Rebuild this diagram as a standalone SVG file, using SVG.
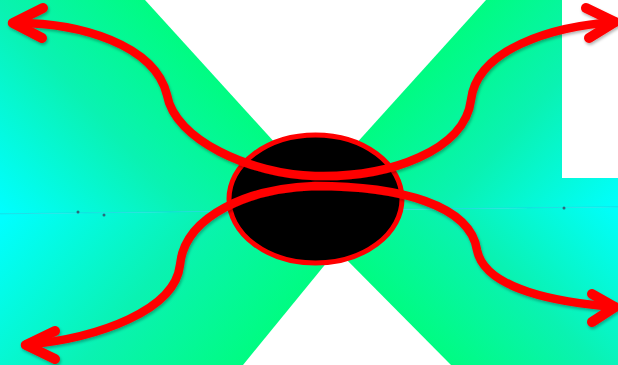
<svg xmlns="http://www.w3.org/2000/svg" width="618" height="365" viewBox="0 0 618 365">
  <defs>
    <linearGradient id="gUL" x1="230" y1="94" x2="45" y2="261.5" gradientUnits="userSpaceOnUse">
      <stop offset="0" stop-color="#00fc82"/>
      <stop offset="0.45" stop-color="#0af2b2"/>
      <stop offset="1" stop-color="#00ffff"/>
    </linearGradient>
    <linearGradient id="gLL" x1="290" y1="307.5" x2="74" y2="131" gradientUnits="userSpaceOnUse">
      <stop offset="0" stop-color="#00fc82"/>
      <stop offset="0.45" stop-color="#0af2b2"/>
      <stop offset="1" stop-color="#00ffff"/>
    </linearGradient>
    <linearGradient id="gUR" x1="401" y1="94" x2="579" y2="255" gradientUnits="userSpaceOnUse">
      <stop offset="0" stop-color="#00fc82"/>
      <stop offset="0.45" stop-color="#0af2b2"/>
      <stop offset="1" stop-color="#00ffff"/>
    </linearGradient>
    <linearGradient id="gLR" x1="394" y1="307.5" x2="561" y2="143" gradientUnits="userSpaceOnUse">
      <stop offset="0" stop-color="#00fc82"/>
      <stop offset="0.45" stop-color="#0af2b2"/>
      <stop offset="1" stop-color="#00ffff"/>
    </linearGradient>
    <filter id="sh" x="-10%" y="-10%" width="120%" height="120%">
      <feDropShadow dx="1" dy="2" stdDeviation="1.5" flood-color="#000" flood-opacity="0.3"/>
    </filter>
    <style>
      .curve { fill: none; stroke: #ff0000; stroke-width: 8.5; stroke-linecap: round; stroke-linejoin: round; }
      .head { fill: none; stroke: #ff0000; stroke-width: 10; stroke-linecap: round; stroke-linejoin: round; }
      .dot { fill: #2a6a7a; }
    </style>
  </defs>

  <!-- background -->
  <polygon points="0,0 316,0 316,210.4 0,214" fill="url(#gUL)"/>
  <polygon points="0,214 316,210.4 316,365 0,365" fill="url(#gLL)"/>
  <polygon points="316,0 618,0 618,207 316,210.4" fill="url(#gUR)"/>
  <polygon points="316,210.4 618,207 618,365 316,365" fill="url(#gLR)"/>
  <line x1="0" y1="213.8" x2="618" y2="206.8" stroke="#18d4e2" stroke-width="1" opacity="0.75"/>
  <circle class="dot" cx="78" cy="212" r="1.5"/>
  <circle class="dot" cx="104" cy="215" r="1.5"/>
  <circle class="dot" cx="564" cy="208" r="1.5"/>
  <polygon points="145,0 486,0 316,188" fill="#ffffff"/>
  <polygon points="337,250 243,365 451,365" fill="#ffffff"/>
  <rect x="562" y="0" width="56" height="178" fill="#ffffff"/>

  <g id="hub">
    <ellipse cx="315.5" cy="199" rx="86.5" ry="64" fill="#000000" stroke="#ff0000" stroke-width="5"/>
  </g>

  <g id="connectors" filter="url(#sh)">
    <path class="curve" d="M12,23 C80,22 155,45 167,95 C175,140 250,174 315,176 C390,178 465,150 471,100 C477,50 550,26 617,22"/>
    <path class="curve" d="M25,345 C100,338 175,310 180,265 C185,215 250,188 315,186 C400,186 470,205 477,250 C485,290 560,303 617,307"/>
    <path class="head" d="M43,8 L13,23 L42,38"/>
    <path class="head" d="M586,8 L615,22 L589,38"/>
    <path class="head" d="M55,331 L26,345 L55,359"/>
    <path class="head" d="M592,294 L615,307 L592,322"/>
  </g>
</svg>
